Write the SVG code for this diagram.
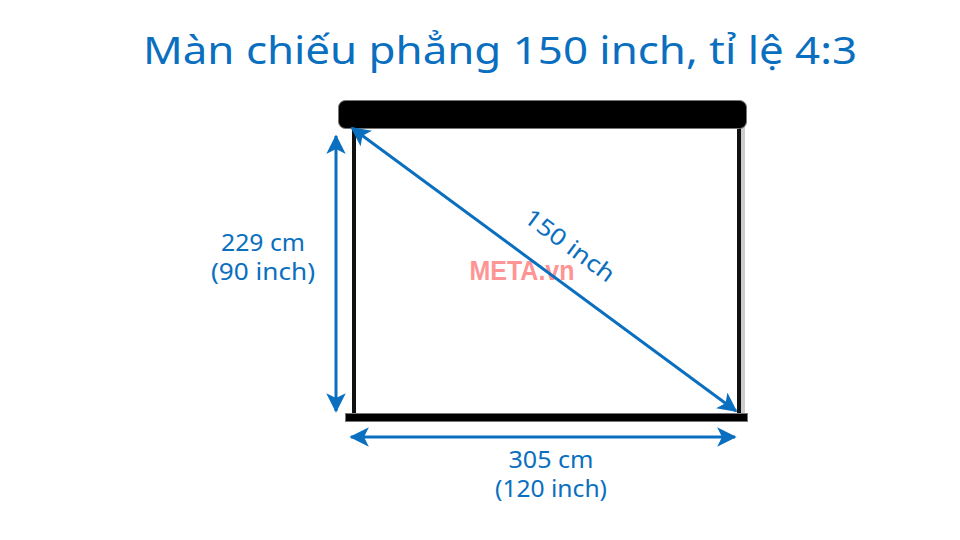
<svg xmlns="http://www.w3.org/2000/svg" width="960" height="540" viewBox="0 0 960 540">
<defs>
<style>
.t{font-family:"Noto Sans","Liberation Sans",sans-serif;fill:#0b6fc0}
.dim{stroke:#0b6fc0;stroke-width:3;fill:none}
</style>
<marker id="ah" viewBox="0 0 12 12" refX="11" refY="6" markerWidth="6.5" markerHeight="6.5" orient="auto-start-reverse" markerUnits="strokeWidth">
<path d="M0,0 L12,6 L0,12 L3,6 Z" fill="#0b6fc0"/>
</marker>
</defs>
<rect width="960" height="540" fill="#fff"/>
<text class="t" x="500" y="64" font-size="38" text-anchor="middle" textLength="714" lengthAdjust="spacingAndGlyphs">Màn chiếu phẳng 150 inch, tỉ lệ 4:3</text>
<g id="screen">
<rect x="352" y="120" width="4" height="294" fill="#111"/>
<rect x="737" y="120" width="4" height="294" fill="#111"/>
<rect x="741" y="120" width="4" height="294" fill="#ccc"/>
<rect x="338.5" y="100.5" width="408" height="28" rx="7" fill="#000" stroke="#777" stroke-width="1"/>
<rect x="345.5" y="413.5" width="402" height="8" fill="#000" stroke="#777" stroke-width="1"/>
</g>
<text x="522" y="280" font-family="Liberation Sans,Arial,sans-serif" font-weight="bold" font-size="27" fill="#ff9494" text-anchor="middle" textLength="105" lengthAdjust="spacingAndGlyphs">META.vn</text>
<g id="connectors">
<line class="dim" x1="336" y1="136" x2="336" y2="411" marker-start="url(#ah)" marker-end="url(#ah)"/>
<line class="dim" x1="351" y1="437" x2="735" y2="437" marker-start="url(#ah)" marker-end="url(#ah)"/>
<line class="dim" x1="352" y1="128" x2="736" y2="411" marker-start="url(#ah)" marker-end="url(#ah)"/>
</g>
<g id="labels">
<text class="t" x="565" y="252" font-size="23" text-anchor="middle" transform="rotate(36.4 565 252)" textLength="106" lengthAdjust="spacingAndGlyphs">150 inch</text>
<text class="t" x="263" y="251" font-size="23" text-anchor="middle" textLength="84" lengthAdjust="spacingAndGlyphs">229 cm</text>
<text class="t" x="263" y="280" font-size="23" text-anchor="middle" textLength="104" lengthAdjust="spacingAndGlyphs">(90 inch)</text>
<text class="t" x="551" y="468" font-size="23" text-anchor="middle" textLength="85" lengthAdjust="spacingAndGlyphs">305 cm</text>
<text class="t" x="551" y="497" font-size="23" text-anchor="middle" textLength="112" lengthAdjust="spacingAndGlyphs">(120 inch)</text>
</g>
</svg>
